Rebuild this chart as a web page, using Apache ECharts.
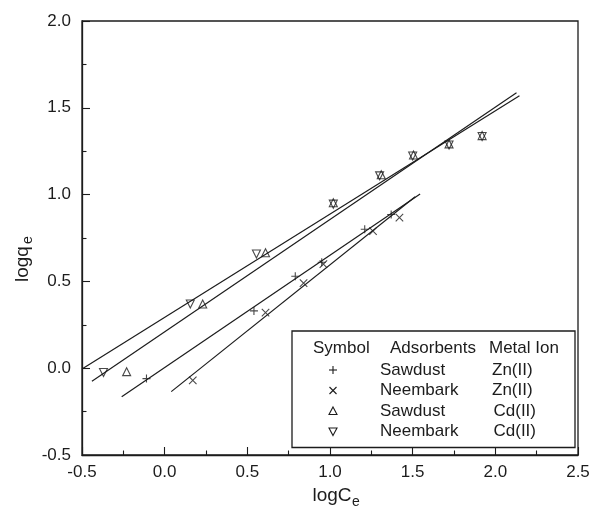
<!DOCTYPE html>
<html>
<head>
<meta charset="utf-8">
<script src="https://cdn.jsdelivr.net/npm/echarts@6/dist/echarts.min.js"></script>
<style>
  html, body { margin: 0; padding: 0; background: #fff; }
  #chart { width: 606px; height: 506px; }
</style>
</head>
<body>
<div id="chart"></div>
<script>
// Freundlich isotherm data: log qe vs log Ce
const znSawdustX   = [-0.11, 0.54, 0.79, 0.95, 1.21, 1.37];
const znSawdustY   = [-0.06, 0.33, 0.53, 0.61, 0.80, 0.885];
const znNeembarkX  = [0.17, 0.61, 0.84, 0.96, 1.26, 1.42];
const znNeembarkY  = [-0.07, 0.32, 0.49, 0.60, 0.79, 0.867];
const cdSawdustX   = [-0.23, 0.23, 0.61, 1.02, 1.31, 1.505, 1.72, 1.92];
const cdSawdustY   = [-0.02, 0.37, 0.665, 0.953, 1.114, 1.228, 1.292, 1.34];
const cdNeembarkX  = [-0.37, 0.155, 0.555, 1.02, 1.30, 1.50, 1.72, 1.92];
const cdNeembarkY  = [-0.025, 0.37, 0.658, 0.945, 1.108, 1.222, 1.286, 1.335];

// Linear fit segments (endpoints)
const cdNeembarkFitX = [-0.5, 2.146];
const cdNeembarkFitY = [-0.005, 1.569];
const cdSawdustFitX  = [-0.44, 2.128];
const cdSawdustFitY  = [-0.075, 1.586];
const znSawdustFitX  = [-0.26, 1.545];
const znSawdustFitY  = [-0.165, 1.003];
const znNeembarkFitX = [0.04, 1.515];
const znNeembarkFitY = [-0.135, 0.988];

// Axis ticks
const xTicks = [-0.5, 0.0, 0.5, 1.0, 1.5, 2.0, 2.5];
const yTicks = [-0.5, 0.0, 0.5, 1.0, 1.5, 2.0];

// Legend rows
const legendHeader = ['Symbol', 'Adsorbents', 'Metal Ion'];
const legendAdsorbents = ['Sawdust', 'Neembark', 'Sawdust', 'Neembark'];
const legendIons = ['Zn(II)', 'Zn(II)', 'Cd(II)', 'Cd(II)'];

const INK = '#1c1c1c';
const FONT = '"Liberation Sans", Arial, Helvetica, sans-serif';

const zip = (xs, ys) => xs.map((x, i) => [x, ys[i]]);

const PLUS = 'path://M0,5L10,5M5,0L5,10';
const CROSS = 'path://M0,0L10,10M10,0L0,10';

function scatter(name, xs, ys, symbol, size, rotate) {
  return {
    name, type: 'scatter', data: zip(xs, ys),
    symbol, symbolSize: size, symbolRotate: rotate || 0,
    itemStyle: { color: 'rgba(0,0,0,0)', borderColor: INK, borderWidth: 1.1 },
    z: 5, silent: true
  };
}
function fit(name, xs, ys) {
  return {
    name, type: 'line', data: zip(xs, ys), showSymbol: false, symbol: 'none',
    lineStyle: { color: INK, width: 1.2 }, z: 4, silent: true
  };
}

const chart = echarts.init(document.getElementById('chart'), null, { renderer: 'canvas' });

// Legend box drawn as graphic elements
const lgLeft = 292, lgTop = 331, lgRight = 575, lgBottom = 447.5;
const symX = 333, adsX = 380, ionX = [492, 492, 493.5, 493.5];
const headerY = 348.5, rowY = [370, 390.5, 411, 431.5];

const legendGraphics = [
  { type: 'rect', shape: { x: lgLeft, y: lgTop, width: lgRight - lgLeft, height: lgBottom - lgTop },
    style: { fill: '#fff', stroke: INK, lineWidth: 1.3 }, z: 10 },
  { type: 'text', x: 313, y: headerY, style: { text: legendHeader[0], font: '17px ' + FONT, fill: INK, textVerticalAlign: 'middle' }, z: 11 },
  { type: 'text', x: 390, y: headerY, style: { text: legendHeader[1], font: '17px ' + FONT, fill: INK, textVerticalAlign: 'middle' }, z: 11 },
  { type: 'text', x: 489, y: headerY, style: { text: legendHeader[2], font: '17px ' + FONT, fill: INK, textVerticalAlign: 'middle' }, z: 11 }
];
rowY.forEach((y, i) => {
  legendGraphics.push({ type: 'text', x: adsX, y: y, style: { text: legendAdsorbents[i], font: '17px ' + FONT, fill: INK, textVerticalAlign: 'middle' }, z: 11 });
  legendGraphics.push({ type: 'text', x: ionX[i], y: y, style: { text: legendIons[i], font: '17px ' + FONT, fill: INK, textVerticalAlign: 'middle' }, z: 11 });
});
const sym = { stroke: INK, lineWidth: 1.1, fill: 'none' };
legendGraphics.push(
  { type: 'polyline', shape: { points: [[symX - 4, rowY[0]], [symX + 4, rowY[0]]] }, style: sym, z: 11 },
  { type: 'polyline', shape: { points: [[symX, rowY[0] - 4], [symX, rowY[0] + 4]] }, style: sym, z: 11 },
  { type: 'polyline', shape: { points: [[symX - 3.5, rowY[1] - 3.5], [symX + 3.5, rowY[1] + 3.5]] }, style: sym, z: 11 },
  { type: 'polyline', shape: { points: [[symX + 3.5, rowY[1] - 3.5], [symX - 3.5, rowY[1] + 3.5]] }, style: sym, z: 11 },
  { type: 'polygon', shape: { points: [[symX, rowY[2] - 4], [symX + 4, rowY[2] + 3.5], [symX - 4, rowY[2] + 3.5]] }, style: sym, z: 11 },
  { type: 'polygon', shape: { points: [[symX, rowY[3] + 4], [symX + 4, rowY[3] - 3.5], [symX - 4, rowY[3] - 3.5]] }, style: sym, z: 11 }
);

// Axis titles with subscripts (middle-aligned: baseline sits ~0.35em below y)
const titleGraphics = [
  { type: 'text', x: 312.5, y: 495.5, style: { text: 'logC', font: '19px ' + FONT, fill: INK, textVerticalAlign: 'middle' } },
  { type: 'text', x: 352, y: 502.5, style: { text: 'e', font: '14px ' + FONT, fill: INK, textVerticalAlign: 'middle' } },
  { type: 'group', x: 29, y: 282, rotation: Math.PI / 2, children: [
    { type: 'text', x: 0, y: -6.6, style: { text: 'logq', font: '19px ' + FONT, fill: INK, textVerticalAlign: 'middle' } },
    { type: 'text', x: 38, y: -0.5, style: { text: 'e', font: '14px ' + FONT, fill: INK, textVerticalAlign: 'middle' } }
  ] }
];

const axisCommon = {
  type: 'value',
  axisLine: { show: true, onZero: false, lineStyle: { color: INK, width: 1.3 } },
  axisTick: { show: true, inside: true, length: 8, lineStyle: { color: INK, width: 1.1 } },
  minorTick: { show: true, splitNumber: 2, length: 4.5, lineStyle: { color: INK, width: 1.1 } },
  splitLine: { show: false },
  minorSplitLine: { show: false },
  axisLabel: { color: INK, fontSize: 17, fontFamily: FONT, formatter: v => v.toFixed(1), showMinLabel: true, showMaxLabel: true }
};

chart.setOption({
  backgroundColor: '#fff',
  animation: false,
  grid: { left: 82, right: 28, top: 21, bottom: 51, show: true, borderColor: INK, borderWidth: 1.3, backgroundColor: 'transparent' },
  xAxis: Object.assign({}, axisCommon, {
    min: xTicks[0], max: xTicks[xTicks.length - 1], interval: 0.5,
    axisLabel: Object.assign({}, axisCommon.axisLabel, { margin: 9 })
  }),
  yAxis: Object.assign({}, axisCommon, {
    min: yTicks[0], max: yTicks[yTicks.length - 1], interval: 0.5,
    axisLabel: Object.assign({}, axisCommon.axisLabel, { margin: 11 })
  }),
  series: [
    fit('Cd(II) Neembark fit', cdNeembarkFitX, cdNeembarkFitY),
    fit('Cd(II) Sawdust fit', cdSawdustFitX, cdSawdustFitY),
    fit('Zn(II) Sawdust fit', znSawdustFitX, znSawdustFitY),
    fit('Zn(II) Neembark fit', znNeembarkFitX, znNeembarkFitY),
    scatter('Zn(II) Sawdust', znSawdustX, znSawdustY, PLUS, 8),
    scatter('Zn(II) Neembark', znNeembarkX, znNeembarkY, CROSS, 7.5),
    scatter('Cd(II) Sawdust', cdSawdustX, cdSawdustY, 'triangle', 8),
    scatter('Cd(II) Neembark', cdNeembarkX, cdNeembarkY, 'triangle', 8, 180)
  ],
  graphic: legendGraphics.concat(titleGraphics)
});
</script>
</body>
</html>
